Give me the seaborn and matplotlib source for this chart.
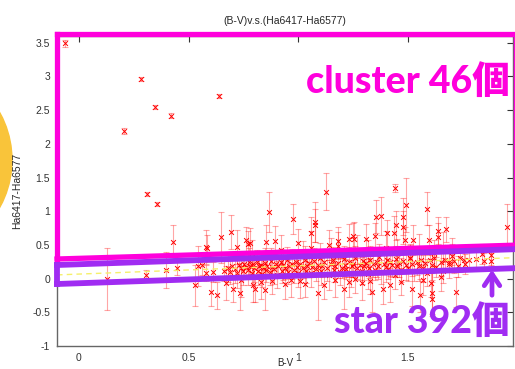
import numpy as np
import pandas as pd
import matplotlib
matplotlib.use("Agg")
import matplotlib.pyplot as plt
import seaborn as sns
from matplotlib.lines import Line2D
from matplotlib.patches import Ellipse, FancyArrowPatch

# ---------------- data ----------------
bv = [
    -0.064, 0.283, 0.204, 0.348, 0.421, 0.638, 0.312, 0.355, 1.128, 1.44, 1.953,
    0.126, 0.304, 0.396, 0.431, 0.449, 0.53, 0.545, 0.56, 0.58, 0.586, 0.578,
    0.601, 0.629, 0.61, 0.65, 0.671, 0.694, 0.705, 0.72, 0.736, 0.763, 0.773,
    0.78, 0.796, 0.804, 0.83, 0.854, 0.869, 0.85, 0.895, 0.976, 0.968, 1.0,
    1.03, 1.058, 1.078, 1.078, 1.09, 1.14, 1.17, 1.18, 1.18, 1.21, 1.23, 1.25,
    1.257, 1.26, 1.29, 1.31, 1.336, 1.35, 1.356, 1.38, 1.385, 1.405, 1.435,
    1.447, 1.478, 1.48, 1.489, 1.49, 1.526, 1.51, 1.52, 1.557, 1.587, 1.598,
    1.607, 1.61, 1.61, 1.64, 1.64, 1.674, 1.66, 1.686, 1.72, 1.70, 1.755, 1.81,
    1.84, 1.846, 1.88, 1.88,
    # dense band
    0.66, 0.68, 0.69, 0.70, 0.71, 0.72, 0.73, 0.74, 0.75, 0.755, 0.76, 0.77,
    0.775, 0.78, 0.79, 0.795, 0.80, 0.81, 0.815, 0.82, 0.83, 0.835, 0.84, 0.85,
    0.855, 0.86, 0.87, 0.875, 0.88, 0.89, 0.90, 0.905, 0.91, 0.92, 0.925, 0.93,
    0.94, 0.95, 0.955, 0.96, 0.97, 0.98, 0.99, 0.995, 1.00, 1.01, 1.02, 1.03,
    1.035, 1.04, 1.05, 1.06, 1.065, 1.07, 1.08, 1.09, 1.10, 1.105, 1.11, 1.12,
    1.13, 1.14, 1.15, 1.16, 1.165, 1.17, 1.18, 1.19, 1.20, 1.21, 1.215, 1.22,
    1.23, 1.24, 1.245, 1.25, 1.26, 1.27, 1.28, 1.29, 1.295, 1.30, 1.31, 1.32,
    1.325, 1.33, 1.34, 1.35, 1.36, 1.365, 1.37, 1.38, 1.39, 1.40, 1.405, 1.41,
    1.42, 1.43, 1.44, 1.445, 1.45, 1.46, 1.47, 1.48, 1.49, 1.50, 1.51, 1.52,
    1.53, 1.54, 1.55, 1.56, 1.57, 1.58, 1.59, 1.60, 1.61, 1.62, 1.63, 1.65,
    1.66, 1.67, 1.69, 1.71, 1.73, 1.74, 1.76, 1.78,
    0.74, 0.88, 0.94, 1.01, 1.12, 1.23, 1.33, 1.42, 1.47, 1.57, 1.65,
    0.79, 0.92, 1.02, 1.06, 1.15, 1.27, 1.32, 1.40, 1.45, 1.55, 1.62, 1.70,
]
ha = [
    3.49, 2.96, 2.19, 2.54, 2.42, 2.71, 1.26, 1.11, 1.29, 1.34, 0.76,
    -0.01, 0.055, 0.125, 0.54, 0.15, -0.10, 0.19, 0.20, 0.47, 0.45, 0.085,
    -0.20, -0.25, 0.10, 0.61, -0.07, 0.69, -0.15, 0.47, -0.21, 0.57, 0.51,
    0.53, -0.10, -0.15, -0.05, 0.55, 0.99, -0.17, 0.56, 0.88, -0.02, 0.53,
    -0.08, 0.67, 0.84, 0.79, -0.21, 0.50, -0.02, 0.56, 0.49, -0.15, 0.585, 0.63,
    0.585, 0.0, -0.07, 0.585, -0.20, 0.63, 0.92, 0.93, -0.15, 0.67, 0.68,
    0.79, 0.76, 0.92, 0.57, 1.09, 0.57, 0.30, -0.15, -0.25, 1.04, 0.57,
    -0.06, -0.22, -0.30, 0.71, 0.62, 0.73, 0.47, 0.25, -0.20, 0.40, 0.27, 0.29,
    0.36, 0.26, 0.35, 0.26,
    0.12, 0.15, 0.10, 0.18, 0.14, 0.08, 0.20, 0.16, 0.11, 0.22, 0.17, 0.13,
    0.25, 0.19, 0.09, 0.21, 0.15, 0.24, 0.12, 0.18, 0.20, 0.07, 0.16, 0.23,
    0.13, 0.19, 0.10, 0.26, 0.17, 0.14, 0.21, 0.06, 0.18, 0.24, 0.12, 0.20,
    0.15, 0.27, 0.10, 0.19, 0.22, 0.13, 0.25, 0.17, 0.08, 0.21, 0.16, 0.28,
    0.12, 0.19, 0.23, 0.09, 0.17, 0.26, 0.14, 0.20, 0.31, 0.11, 0.18, 0.24,
    0.15, 0.05, 0.21, 0.27, 0.13, 0.19, 0.23, 0.10, 0.16, 0.29, 0.20, 0.14,
    0.25, 0.08, 0.18, 0.22, 0.30, 0.15, 0.20, 0.12, 0.26, 0.18, 0.23, 0.07,
    0.16, 0.28, 0.21, 0.13, 0.25, 0.19, 0.32, 0.10, 0.22, 0.17, 0.27, 0.14,
    0.24, 0.20, 0.06, 0.29, 0.18, 0.23, 0.13, 0.26, 0.20, 0.16, 0.31, 0.22,
    0.11, 0.25, 0.19, 0.28, 0.15, 0.23, 0.09, 0.27, 0.20, 0.30, 0.17, 0.24,
    0.12, 0.28, 0.21, 0.26, 0.18, 0.30, 0.22, 0.27,
    -0.02, -0.03, -0.08, -0.04, -0.10, -0.05, -0.03, -0.09, -0.05, -0.02, 0.02,
    0.38, 0.42, 0.36, 0.45, 0.40, 0.43, 0.37, 0.46, 0.39, 0.44, 0.38, 0.34,
]
err = [
    0.05, 0.03, 0.04, 0.03, 0.04, 0.03, 0.03, 0.03, 0.27, 0.06, 0.34,
    0.46, 0.08, 0.27, 0.26, 0.10, 0.30, 0.30, 0.15, 0.25, 0.20, 0.12,
    0.20, 0.20, 0.15, 0.38, 0.25, 0.25, 0.20, 0.25, 0.25, 0.20, 0.20,
    0.22, 0.25, 0.20, 0.25, 0.25, 0.30, 0.30, 0.22, 0.22, 0.25, 0.20,
    0.20, 0.25, 0.30, 0.25, 0.40, 0.22, 0.25, 0.20, 0.20, 0.30, 0.22, 0.20,
    0.25, 0.22, 0.25, 0.22, 0.30, 0.20, 0.25, 0.28, 0.22, 0.20, 0.25,
    0.22, 0.25, 0.28, 0.20, 0.40, 0.22, 0.20, 0.25, 0.25, 0.25, 0.22,
    0.22, 0.30, 0.25, 0.20, 0.20, 0.18, 0.22, 0.15, 0.22, 0.20, 0.15, 0.15,
    0.15, 0.12, 0.15, 0.12,
    0.15, 0.2, 0.18, 0.15, 0.2, 0.22, 0.15, 0.12, 0.2, 0.18, 0.15, 0.22,
    0.2, 0.12, 0.18, 0.15, 0.2, 0.18, 0.22, 0.15, 0.2, 0.2, 0.15, 0.22,
    0.18, 0.15, 0.2, 0.2, 0.15, 0.22, 0.18, 0.2, 0.15, 0.2, 0.18, 0.22,
    0.15, 0.2, 0.18, 0.15, 0.22, 0.2, 0.18, 0.15, 0.2, 0.22, 0.15, 0.2,
    0.18, 0.15, 0.2, 0.22, 0.15, 0.2, 0.18, 0.15, 0.22, 0.2, 0.15, 0.2,
    0.18, 0.22, 0.15, 0.2, 0.18, 0.15, 0.22, 0.2, 0.15, 0.2, 0.18, 0.15,
    0.22, 0.2, 0.15, 0.2, 0.18, 0.15, 0.22, 0.2, 0.15, 0.2, 0.18, 0.22,
    0.15, 0.2, 0.18, 0.15, 0.22, 0.2, 0.2, 0.18, 0.15, 0.22, 0.2, 0.15,
    0.2, 0.18, 0.22, 0.2, 0.15, 0.2, 0.18, 0.15, 0.22, 0.2, 0.2, 0.18,
    0.15, 0.2, 0.22, 0.18, 0.2, 0.15, 0.2, 0.18, 0.22, 0.2, 0.15, 0.2,
    0.18, 0.15, 0.2, 0.18, 0.15, 0.2, 0.15, 0.12,
    0.25, 0.2, 0.22, 0.25, 0.2, 0.22, 0.2, 0.25, 0.2, 0.22, 0.2,
    0.2, 0.22, 0.2, 0.25, 0.2, 0.22, 0.2, 0.25, 0.2, 0.22, 0.2, 0.18,
]
fit_x = [-0.1, 1.98]
fit_y = [0.055, 0.31]

x_ticks = [0, 0.5, 1, 1.5]
x_ticklabels = ["0", "0.5", "1", "1.5"]
y_ticks = [-1, -0.5, 0, 0.5, 1, 1.5, 2, 2.5, 3, 3.5]
y_ticklabels = ["-1", "-0.5", "0", "0.5", "1", "1.5", "2", "2.5", "3", "3.5"]

title = "(B-V)v.s.(Ha6417-Ha6577)"
xlabel = "B-V"
ylabel = "Ha6417-Ha6577"
cluster_text = "cluster 46個"
star_text = "star 392個"

df = pd.DataFrame({"bv": bv, "ha": ha, "err": err})

# ---------------- figure ----------------
sns.set_style("white")
plt.rcParams["font.family"] = ["Liberation Sans", "DejaVu Sans"]

W, H = 515, 369
fig = plt.figure(figsize=(W / 100, H / 100), dpi=100)
ax_bottom = 346
ax_top = 36
ax = fig.add_axes([57 / W, 1 - ax_bottom / H, (513 - 57) / W, (ax_bottom - ax_top) / H])

ax.errorbar(df["bv"], df["ha"], yerr=df["err"], fmt="none",
            ecolor="#ff0000", alpha=0.35, elinewidth=0.8, capsize=2,
            capthick=0.8, zorder=2)
sns.scatterplot(data=df, x="bv", y="ha", marker="x", color="#ff0000",
                s=12, linewidth=0.7, ax=ax, zorder=3, legend=False)
sns.lineplot(x=fit_x, y=fit_y, ax=ax, color="#f5f06a", linewidth=1.0,
             linestyle=(0, (4, 3)), zorder=4)

ax.set_xlim(-0.1, 1.98)
ax.set_ylim(-1, 3.6)
ax.set_xticks(x_ticks)
ax.set_xticklabels(x_ticklabels)
ax.set_yticks(y_ticks)
ax.set_yticklabels(y_ticklabels)
ax.tick_params(direction="in", length=4, width=0.8, colors="#333333",
               labelsize=7.5, top=True, right=True)
ax.tick_params(axis="y", pad=5)
ax.tick_params(axis="x", pad=5)
for sp in ax.spines.values():
    sp.set_color("#666666")
    sp.set_linewidth(1.0)
ax.set_xlabel(xlabel, fontsize=7, va="bottom")
# keep the x label just inside the bottom edge (the slide crops it tightly)
ax.xaxis.set_label_coords(0.5, -(368.5 - ax_bottom) / (ax_bottom - ax_top))
ax.set_ylabel(ylabel, fontsize=7.5, labelpad=7)
ax.set_title(title, fontsize=7.5, pad=9)

# ---------------- slide annotations (pixel coords) ----------------
def P(x, y):
    return x / W, 1 - y / H

mag = "#ff00dc"
pur = "#a02cf2"

def seg(p0, p1, color, lw):
    (x0, y0), (x1, y1) = P(*p0), P(*p1)
    fig.add_artist(Line2D([x0, x1], [y0, y1], color=color, lw=lw,
                          solid_capstyle="projecting", transform=fig.transFigure,
                          zorder=10))

# magenta box
seg((57, 34), (520, 34), mag, 3.8)
seg((57, 34), (57, 259), mag, 3.8)
seg((57, 259), (520, 245), mag, 3.8)
seg((514, 34), (514, 245), mag, 1.0)
# purple box
seg((57, 265), (520, 249), pur, 4.2)
seg((57, 265), (57, 284), pur, 4.2)
seg((57, 284), (520, 268), pur, 4.2)

# yellow circle at left edge
fig.add_artist(Ellipse(P(-86, 160), width=2 * 98 / W, height=2 * 98 / H,
                       transform=fig.transFigure, color="#f9c43a", zorder=0))

# arrow (open chevron head)
fig.add_artist(FancyArrowPatch(P(492, 298), P(492, 267),
                               transform=fig.transFigure, color=pur,
                               arrowstyle="->,head_length=6,head_width=4",
                               lw=3.4, mutation_scale=1.4,
                               capstyle="round", joinstyle="round", zorder=11))

big_family = ["Lato", "Noto Sans CJK JP", "DejaVu Sans"]
fig.text(*P(510, 93), cluster_text, color=mag, fontsize=27, fontweight="black",
         ha="right", va="baseline", family=big_family, zorder=12)
fig.text(*P(510, 333), star_text, color=pur, fontsize=27, fontweight="black",
         ha="right", va="baseline", family=big_family, zorder=12)

fig.savefig("out.png", dpi=100)
